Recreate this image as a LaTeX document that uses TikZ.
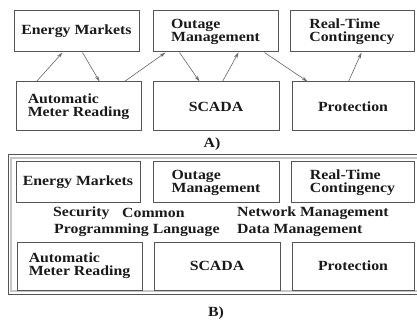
\documentclass[tikz,border=0pt]{standalone}
\usepackage{fontspec}
\setmainfont{Liberation Serif}[FakeStretch=1.13]
\usetikzlibrary{arrows.meta}
\definecolor{boxgray}{HTML}{555555}
\definecolor{txt}{HTML}{1A1A1A}
\begin{document}
\begin{tikzpicture}[x=1pt,y=-1pt,
  box/.style={draw=boxgray,line width=1pt,inner sep=0pt,text=txt,
    font=\fontsize{14}{13}\selectfont\bfseries,align=left},
  lbl/.style={inner sep=0pt,text=txt,font=\fontsize{14}{13}\selectfont\bfseries},
  arr/.style={draw=boxgray!90,line width=0.6pt,-{Stealth[length=6pt,width=3.5pt,open]}}]
\useasboundingbox[fill=white] (0,0) rectangle (417,320);
% Part A
\node[box,minimum width=125pt,minimum height=41pt] (em) at (76.5,31.5) {Energy Markets};
\node[box,minimum width=125pt,minimum height=41pt] (om) at (215.5,31.5) {Outage\\Management};
\node[box,minimum width=124pt,minimum height=41pt] (rtc) at (352,31.5) {Real-Time\\Contingency};
\node[box,minimum width=125pt,minimum height=49pt] (amr) at (78.5,106.5) {Automatic\\Meter Reading};
\node[box,minimum width=126pt,minimum height=49pt] (scada) at (216,106.5) {SCADA};
\node[box,minimum width=122pt,minimum height=49pt] (prot) at (353,106.5) {Protection};
\draw[arr] ([xshift=21pt]amr.north west) -- ([xshift=49pt]em.south west);
\draw[arr] ([xshift=69pt]em.south west) -- ([xshift=84pt]amr.north west);
\draw[arr] ([xshift=109pt]amr.north west) -- ([xshift=13pt]om.south west);
\draw[arr] ([xshift=27pt]om.south west) -- ([xshift=47pt]scada.north west);
\draw[arr] ([xshift=70pt]scada.north west) -- ([xshift=86pt]om.south west);
\draw[arr] ([xshift=112pt]om.south west) -- ([xshift=16pt]prot.north west);
\draw[arr] ([xshift=57pt]prot.north west) -- ([xshift=72pt]rtc.south west);
\node[lbl] (la) at (212,144) {A)};
% Part B frame
\draw[boxgray,line width=1pt] (420,155) -- (8,155) -- (8,294) -- (420,294);
\draw[gray!45,line width=1.2pt] (420,158) -- (11,158) -- (11,291) -- (420,291);
\node[box,minimum width=124pt,minimum height=41pt] (em2) at (78,182.5) {Energy Markets};
\node[box,minimum width=126pt,minimum height=41pt] (om2) at (216,182.5) {Outage\\Management};
\node[box,minimum width=123pt,minimum height=41pt] (rtc2) at (352.5,182.5) {Real-Time\\Contingency};
\node[box,minimum width=125pt,minimum height=48pt] (amr2) at (79.5,266) {Automatic\\Meter Reading};
\node[box,minimum width=126pt,minimum height=48pt] (scada2) at (217,266) {SCADA};
\node[box,minimum width=122pt,minimum height=48pt] (prot2) at (353,266) {Protection};
\node[lbl,anchor=west] (sec) at (53,213) {Security};
\node[lbl,anchor=west] (com) at (122,213) {Common};
\node[lbl,anchor=west] (prog) at (54,230) {Programming Language};
\node[lbl,anchor=west] (net) at (237,213) {Network Management};
\node[lbl,anchor=west] (dat) at (237,230) {Data Management};
\node[lbl] (lb) at (216,313) {B)};
\end{tikzpicture}
\end{document}
